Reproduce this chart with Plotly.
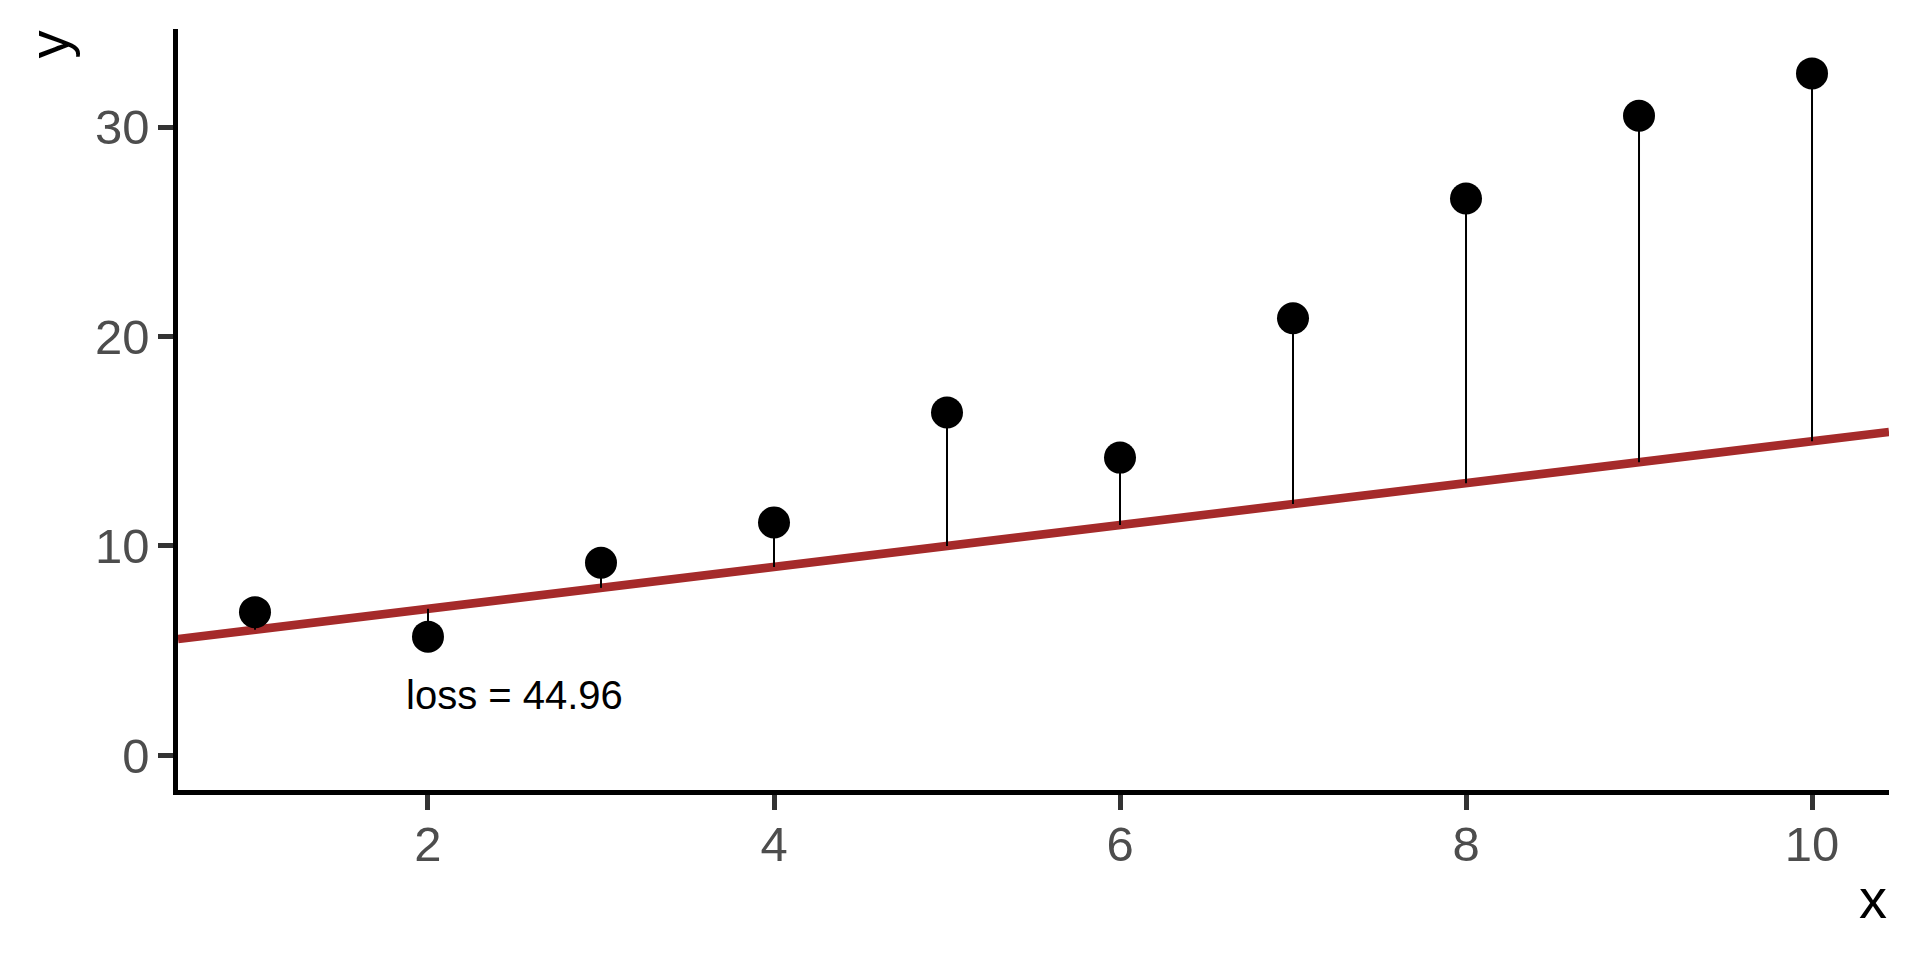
import plotly.graph_objects as go

# data
x_vals = [1, 2, 3, 4, 5, 6, 7, 8, 9, 10]
y_vals = [6.84, 5.67, 9.20, 11.12, 16.37, 14.22, 20.87, 26.59, 30.54, 32.56]
intercept = 5.0
slope = 1.0
loss_label = "loss = 44.96"
x_ticks = [2, 4, 6, 8, 10]
y_ticks = [0, 10, 20, 30]
x_range = [0.555, 10.445]
y_range = [-1.65, 34.68]

y_hat = [intercept + slope * v for v in x_vals]
line_x = list(x_range)
line_y = [intercept + slope * v for v in line_x]

stem_x, stem_y = [], []
for xv, yv, yh in zip(x_vals, y_vals, y_hat):
    stem_x += [xv, xv, None]
    stem_y += [yh, yv, None]

FONT = "Liberation Sans, Arial, sans-serif"

fig = go.Figure()
fig.add_trace(go.Scatter(x=line_x, y=line_y, mode="lines",
                         line=dict(color="#A52A2A", width=8.5), showlegend=False,
                         hoverinfo="skip"))
fig.add_trace(go.Scatter(x=stem_x, y=stem_y, mode="lines",
                         line=dict(color="black", width=2), showlegend=False,
                         hoverinfo="skip"))
fig.add_trace(go.Scatter(x=x_vals, y=y_vals, mode="markers",
                         marker=dict(color="black", size=32), showlegend=False))

fig.add_annotation(x=2.5, y=2.9, xref="x", yref="y", text=loss_label,
                   showarrow=False, font=dict(family=FONT, size=40, color="black"),
                   xanchor="center", yanchor="middle")
# axis titles
fig.add_annotation(x=1.0, y=-0.143, xref="paper", yref="paper", text="x",
                   showarrow=False, font=dict(family=FONT, size=56, color="black"),
                   xanchor="right", yanchor="middle")
fig.add_annotation(x=-0.0762, y=1.0, xref="paper", yref="paper", text="y",
                   textangle=-90, showarrow=False,
                   font=dict(family=FONT, size=56, color="black"),
                   xanchor="center", yanchor="top")

axis_common = dict(showgrid=False, zeroline=False, showline=True, linecolor="black",
                   linewidth=4.5, ticks="outside", ticklen=15, tickwidth=5,
                   tickcolor="#333333",
                   tickfont=dict(family=FONT, size=49, color="#4D4D4D"))
fig.update_xaxes(range=x_range, tickvals=x_ticks, ticklabelstandoff=-8, **axis_common)
fig.update_yaxes(range=y_range, tickvals=y_ticks, ticklabelstandoff=-1, **axis_common)

fig.update_layout(width=1920, height=960,
                  margin=dict(l=170, r=39, t=21, b=178),
                  plot_bgcolor="white", paper_bgcolor="white",
                  font=dict(family=FONT))

fig.write_html("out.html")
